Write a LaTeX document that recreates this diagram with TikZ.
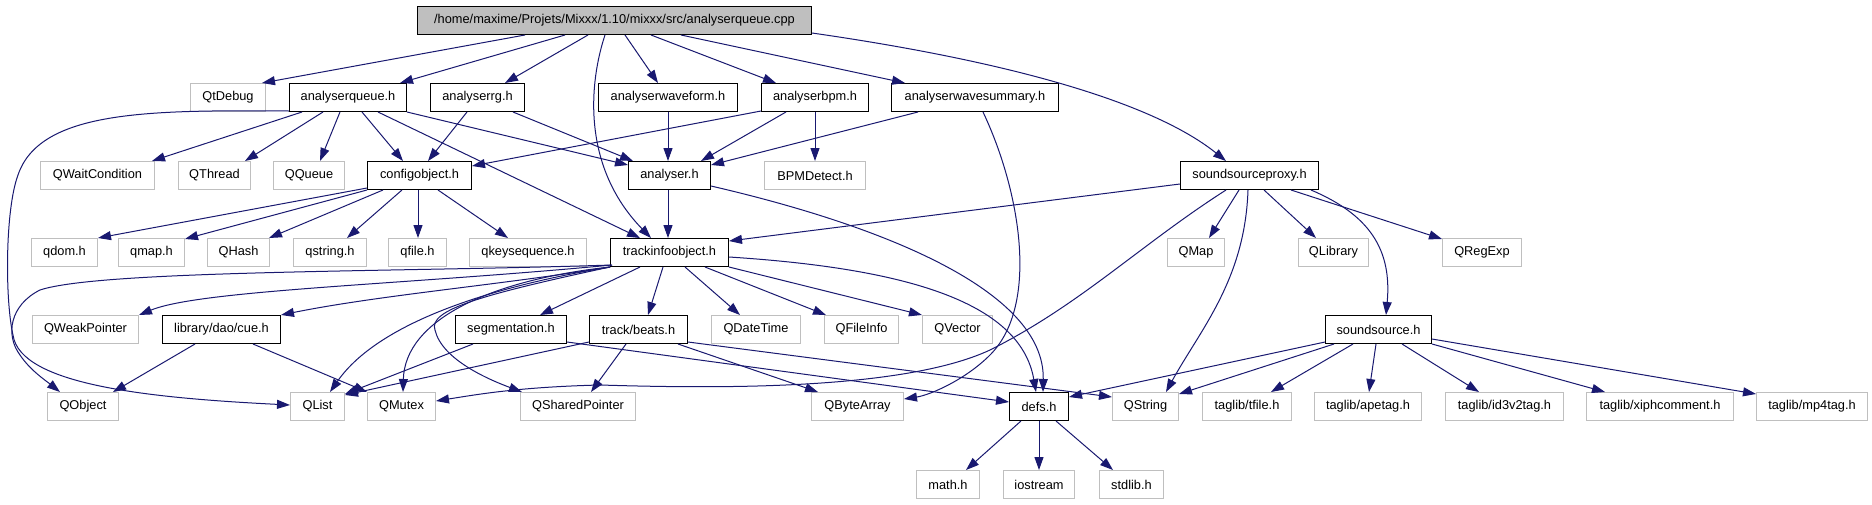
\documentclass[tikz,border=0pt]{standalone}
\usepackage{fontspec}
\setmainfont{Liberation Sans}
\usetikzlibrary{arrows.meta}
\definecolor{edgecol}{HTML}{191970}
\definecolor{gborder}{HTML}{BFBFBF}
\newcommand\nfont{\fontsize{12.8pt}{14pt}\selectfont}
\newcommand\es[4]{\draw[edge] ([xshift=#2]#1.south west) -- ([xshift=#4]#3.north west);}
\tikzset{
 base/.style={anchor=north west, inner sep=0pt, minimum height=28pt, font=\nfont, text=black},
 gnode/.style={base, draw=gborder, line width=1pt},
 bnode/.style={base, draw=black, line width=1pt},
 rnode/.style={base, draw=black, fill=gborder, line width=1pt},
 edge/.style={draw=edgecol, line width=1pt, -{Triangle[length=13pt,width=9pt]}},
}
\begin{document}
\begin{tikzpicture}[x=1pt,y=-1pt]
\fill[white] (0,0) rectangle (1872,504);
\useasboundingbox (0,0) rectangle (1872,504);
% row 0
\node[rnode, minimum width=394pt] (root) at (417,6) {/home/maxime/Projets/Mixxx/1.10/mixxx/src/analyserqueue.cpp};
% row 1
\node[gnode, minimum width=75pt] (qtdebug) at (190,83) {QtDebug};
\node[bnode, minimum width=117pt] (aq) at (289,83) {analyserqueue.h};
\node[bnode, minimum width=94pt] (rg) at (430,83) {analyserrg.h};
\node[bnode, minimum width=139pt] (wf) at (598,83) {analyserwaveform.h};
\node[bnode, minimum width=107pt] (bpm) at (761,83) {analyserbpm.h};
\node[bnode, minimum width=167pt] (ws) at (891,83) {analyserwavesummary.h};
% row 2
\node[gnode, minimum width=114pt] (qwc) at (40,161) {QWaitCondition};
\node[gnode, minimum width=72pt] (qthread) at (178,161) {QThread};
\node[gnode, minimum width=71pt] (qqueue) at (273,161) {QQueue};
\node[bnode, minimum width=104pt] (cfg) at (367,161) {configobject.h};
\node[bnode, minimum width=82pt] (an) at (628,161) {analyser.h};
\node[gnode, minimum width=101pt] (bpmd) at (764,161) {BPMDetect.h};
\node[bnode, minimum width=138pt] (ssp) at (1180,161) {soundsourceproxy.h};
% row 3
\node[gnode, minimum width=66pt] (qdom) at (31,238) {qdom.h};
\node[gnode, minimum width=66pt] (qmap) at (118,238) {qmap.h};
\node[gnode, minimum width=62pt] (qhash) at (207,238) {QHash};
\node[gnode, minimum width=73pt] (qstring) at (293,238) {qstring.h};
\node[gnode, minimum width=58pt] (qfile) at (388,238) {qfile.h};
\node[gnode, minimum width=117pt] (qkey) at (469,238) {qkeysequence.h};
\node[bnode, minimum width=118pt] (tio) at (610,238) {trackinfoobject.h};
\node[gnode, minimum width=57pt] (qmapc) at (1167,238) {QMap};
\node[gnode, minimum width=70pt] (qlib) at (1298,238) {QLibrary};
\node[gnode, minimum width=79pt] (qregexp) at (1442,238) {QRegExp};
% row 4
\node[gnode, minimum width=106pt] (qweak) at (32,315) {QWeakPointer};
\node[bnode, minimum width=118pt] (cue) at (162,315) {library/dao/cue.h};
\node[bnode, minimum width=111pt] (seg) at (455,315) {segmentation.h};
\node[bnode, minimum width=98pt] (beats) at (589,315) {track/beats.h};
\node[gnode, minimum width=89pt] (qdt) at (711,315) {QDateTime};
\node[gnode, minimum width=74pt] (qfi) at (824,315) {QFileInfo};
\node[gnode, minimum width=70pt] (qvec) at (922,315) {QVector};
\node[bnode, minimum width=106pt] (ss) at (1325,315) {soundsource.h};
% row 5
\node[gnode, minimum width=71pt] (qobj) at (47,392) {QObject};
\node[gnode, minimum width=54pt] (qlist) at (290,392) {QList};
\node[gnode, minimum width=68pt] (qmutex) at (367,392) {QMutex};
\node[gnode, minimum width=115pt] (qsp) at (520,392) {QSharedPointer};
\node[gnode, minimum width=92pt] (qba) at (811,392) {QByteArray};
\node[bnode, minimum width=59pt] (defs) at (1009,392) {defs.h};
\node[gnode, minimum width=66pt] (qstr) at (1112,392) {QString};
\node[gnode, minimum width=89pt] (tfile) at (1202,392) {taglib/tfile.h};
\node[gnode, minimum width=107pt] (ape) at (1314,392) {taglib/apetag.h};
\node[gnode, minimum width=118pt] (id3) at (1445,392) {taglib/id3v2tag.h};
\node[gnode, minimum width=147pt] (xiph) at (1586,392) {taglib/xiphcomment.h};
\node[gnode, minimum width=111pt] (mp4) at (1756,392) {taglib/mp4tag.h};
% row 6
\node[gnode, minimum width=63pt] (math) at (916,470) {math.h};
\node[gnode, minimum width=71pt] (iostream) at (1003,470) {iostream};
\node[gnode, minimum width=64pt] (stdlib) at (1099,470) {stdlib.h};
% edges: root
\es{root}{108}{qtdebug}{72}
\es{root}{148}{aq}{111}
\es{root}{171}{rg}{75}
\draw[edge] ([xshift=188]root.south west) .. controls (590,80) and (580,165) .. ([xshift=41]tio.north west);
\es{root}{208}{wf}{60}
\es{root}{234}{bpm}{15}
\es{root}{264}{ws}{14}
\draw[edge] ([yshift=2]root.south east) .. controls (1000,60) and (1150,100) .. ([xshift=46]ssp.north west);
% analyserqueue
\draw[edge] ([yshift=1]aq.south west) .. controls (150,110) and (40,110) .. (18,175) .. controls (5,210) and (5,300) .. (13,335) .. controls (20,385) and (150,398) .. ([yshift=-13]qlist.north west);
\es{aq}{13}{qwc}{112}
\es{aq}{34}{qthread}{67}
\es{aq}{51}{qqueue}{47}
\es{aq}{73}{cfg}{36}
\es{aq}{89}{tio}{30}
\draw[edge] (aq.south east) -- ([yshift=-4]an.north west);
% analyserrg
\es{rg}{37}{cfg}{61}
\es{rg}{83}{an}{5}
% analyserwaveform
\es{wf}{70}{an}{40}
% analyserbpm
\draw[edge] ([yshift=1]bpm.south west) -- ([yshift=-5]cfg.north east);
\es{bpm}{25}{an}{73}
\es{bpm}{54}{bpmd}{51}
% analyserwavesummary
\draw[edge] ([xshift=27]ws.south west) -- ([yshift=-4]an.north east);
\draw[edge] ([xshift=92]ws.south west) .. controls (1020,190) and (1040,305) .. (990,355) .. controls (965,380) and (930,395) .. ([yshift=-7]qba.north east);
% analyser
\es{an}{40}{tio}{58}
\draw[edge] ([yshift=4]an.south east) .. controls (880,225) and (1045,290) .. ([xshift=34]defs.north west);
% configobject
\draw[edge] ([yshift=2]cfg.south west) -- (qdom.north east);
\draw[edge] (cfg.south west) -- ([yshift=-1]qmap.north east);
\es{cfg}{16}{qhash}{62}
\es{cfg}{35}{qstring}{54}
\es{cfg}{51}{qfile}{30}
\es{cfg}{71}{qkey}{39}
% soundsourceproxy
\draw[edge] ([yshift=6]ssp.south west) -- ([yshift=-3]tio.north east);
\draw[edge] ([xshift=46]ssp.south west) .. controls (1140,245) and (1080,305) .. (990,350) .. controls (900,392) and (700,388) .. (600,385) .. controls (520,387) and (480,394) .. ([yshift=-9]qmutex.north east);
\es{ssp}{59}{qmapc}{42}
\draw[edge] ([xshift=68]ssp.south west) .. controls (1245,280) and (1200,330) .. ([xshift=54]qstr.north west);
\es{ssp}{84}{qlib}{18}
\draw[edge] ([xshift=131]ssp.south west) .. controls (1370,215) and (1392,250) .. ([xshift=61]ss.north west);
\draw[edge] ([xshift=111]ssp.south west) -- ([yshift=-1]qregexp.north west);
% trackinfoobject
\draw[edge] ([xshift=2,yshift=2]tio.south west) .. controls (400,272) and (100,270) .. (40,290) .. controls (10,305) and (5,335) .. (20,355) .. controls (30,370) and (45,380) .. ([xshift=13]qobj.north west);
\draw[edge] ([xshift=2,yshift=2]tio.south west) .. controls (400,285) and (200,290) .. (qweak.north east);
\draw[edge] (tio.south west) .. controls (500,285) and (380,295) .. (cue.north east);
\draw[edge] (tio.south west) .. controls (500,285) and (380,320) .. ([xshift=40]qlist.north west);
\draw[edge] (tio.south west) .. controls (490,280) and (405,320) .. ([xshift=36]qmutex.north west);
\draw[edge] (tio.south west) .. controls (480,295) and (428,310) .. (435,330) .. controls (442,360) and (490,380) .. ([xshift=2]qsp.north west);
\es{tio}{30}{seg}{85}
\es{tio}{53}{beats}{59}
\es{tio}{75}{qdt}{29}
\es{tio}{95}{qfi}{2}
\draw[edge] (tio.south east) -- (qvec.north west);
\draw[edge] ([yshift=10]tio.south east) .. controls (900,268) and (1020,300) .. ([xshift=27]defs.north west);
% cue
\es{cue}{33}{qobj}{66}
\draw[edge] ([xshift=91]cue.south west) -- (qmutex.north west);
% segmentation
\draw[edge] ([xshift=18]seg.south west) -- ([yshift=-2]qlist.north east);
\draw[edge] ([yshift=2]seg.south east) -- ([yshift=-10]defs.north west);
% beats
\draw[edge] ([yshift=2]beats.south west) -- ([yshift=-3]qlist.north east);
\es{beats}{37}{qsp}{71}
\es{beats}{89}{qba}{7}
\draw[edge] ([yshift=2]beats.south east) -- ([yshift=-5]qstr.north west);
% soundsource
\draw[edge] ([yshift=2]ss.south west) -- ([yshift=-5]defs.north east);
\draw[edge] ([xshift=9]ss.south west) -- ([yshift=-2]qstr.north east);
\es{ss}{28}{tfile}{69}
\es{ss}{51}{ape}{55}
\es{ss}{77}{id3}{34}
\draw[edge] (ss.south east) -- ([xshift=19]xiph.north west);
\draw[edge] ([yshift=5]ss.south east) -- ([yshift=-2]mp4.north west);
% defs
\es{defs}{12}{math}{50}
\es{defs}{30}{iostream}{36}
\es{defs}{47}{stdlib}{14}
\end{tikzpicture}
\end{document}
